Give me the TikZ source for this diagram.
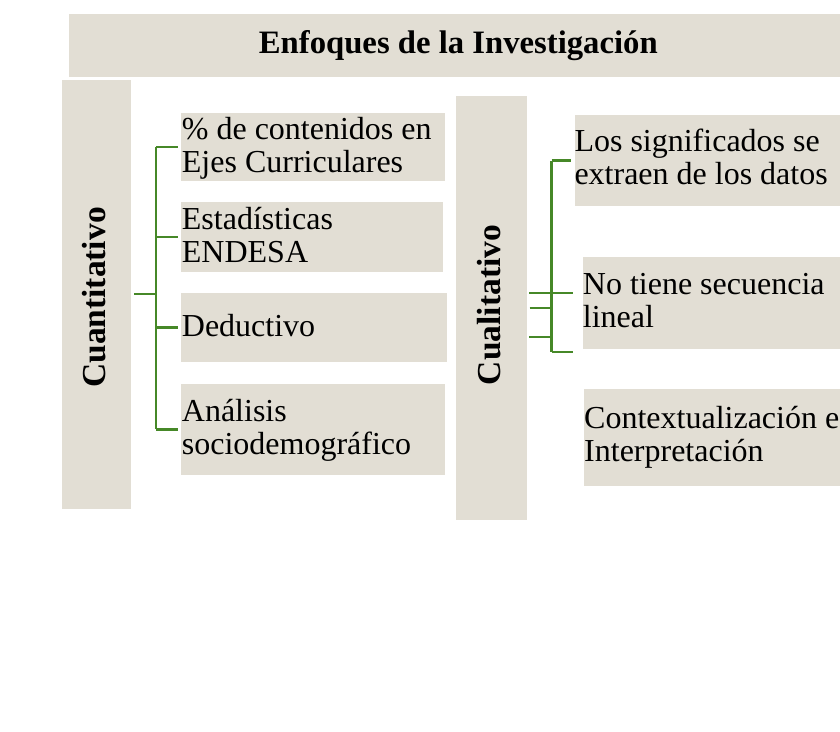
\documentclass[tikz,border=0pt]{standalone}
\usepackage{fontspec}
\usepackage{graphicx}
\setmainfont{Liberation Serif}
\definecolor{beige}{RGB}{226,222,212}
\definecolor{tgreen}{RGB}{70,136,40}
\newcommand\twol[2]{\begin{tabular}[t]{@{}l@{}}#1\\#2\end{tabular}}
\begin{document}
\begin{tikzpicture}[x=1pt,y=-1pt,
  boxst/.style={rectangle,fill=beige,draw=none,inner sep=0pt,anchor=north west},
  txt/.style={anchor=base west,inner sep=0pt,font=\fontsize{32}{33}\selectfont},
  vlabel/.style={inner sep=0pt,font=\bfseries\fontsize{33.5}{38}\selectfont},
  conn/.style={draw=tgreen,line width=2.4pt}]
\useasboundingbox (0,0) rectangle (840,731);
\fill[white] (0,0) rectangle (840,731);
\begin{scope}
\clip (0,0) rectangle (840,731);
% title
\node[boxst,minimum width=795pt,minimum height=62.5pt] (title) at (68.3,14) {};
\node[anchor=base west,inner sep=0pt,font=\bfseries\fontsize{32.7}{38}\selectfont] (titletext) at (258.7,53.3) {Enfoques de la Investigación};
% left column
\node[boxst,minimum width=69pt,minimum height=429pt] (cuant) at (61.7,79.3) {};
\node[vlabel] (cuanttext) at (94,297.5) {\rotatebox{90}{Cuantitativo}};
\node[boxst,minimum width=264pt,minimum height=68.7pt] (b1) at (181,112.3) {};
\node[boxst,minimum width=262pt,minimum height=69.7pt] (b2) at (181,202) {};
\node[boxst,minimum width=266pt,minimum height=69pt] (b3) at (181,292.7) {};
\node[boxst,minimum width=264pt,minimum height=91.7pt] (b4) at (181,383.3) {};
\node[txt] (t1) at (181.7,139.5) {\twol{\% de contenidos en}{Ejes Curriculares}};
\node[txt] (t2) at (181.7,229) {\twol{Estadísticas}{ENDESA}};
\node[txt] (t3) at (181.7,336.7) {Deductivo};
\node[txt] (t4) at (181.7,421.7) {\twol{Análisis}{sociodemográfico}};
% right column
\node[boxst,minimum width=71pt,minimum height=424pt] (cual) at (455.7,96) {};
\node[vlabel] (cualtext) at (489,305) {\rotatebox{90}{Cualitativo}};
\node[boxst,minimum width=290pt,minimum height=90.7pt] (r1) at (574.3,115) {};
\node[boxst,minimum width=280pt,minimum height=91.6pt] (r2) at (582.3,256.7) {};
\node[boxst,minimum width=280pt,minimum height=97pt] (r3) at (583.3,389) {};
\node[txt] (s1) at (574.3,151.7) {\twol{Los significados se}{extraen de los datos}};
\node[txt] (s2) at (582.7,294.3) {\twol{No tiene secuencia}{lineal}};
\node[txt] (s3) at (584,428.3) {\twol{Contextualización e}{Interpretación}};
% left connectors
\coordinate (lsp) at (155.8,293.5);
\draw[conn] ([xshift=3pt]cuant.east) -- (cuant.east -| lsp);
\draw[conn] (lsp |- b1.west) -- (lsp |- b4.west);
\draw[conn] (lsp |- b1.west) -- ([xshift=-3pt]b1.west);
\draw[conn] (lsp |- b2.west) -- ([xshift=-3pt]b2.west);
\draw[conn] (lsp |- b3.west) -- ([xshift=-3pt]b3.west);
\draw[conn] (lsp |- b4.west) -- ([xshift=-3pt]b4.west);
% right connectors
\coordinate (rsp) at (551.5,308.3);
\coordinate (ra) at (529.3,292.7);
\coordinate (rb) at (529.3,336.7);
\coordinate (rc) at (573.3,292.7);
\coordinate (rd) at (573.3,351.7);
\draw[conn] (rsp |- r1.west) -- (rsp |- rd);
\draw[conn] (rsp |- r1.west) -- ([xshift=-3pt]r1.west);
\draw[conn] (rsp |- rc) -- (rc);
\draw[conn] (rsp |- rd) -- (rd);
\draw[conn] ([xshift=2.6pt]cual.east) -- (cual.east -| rsp);
\draw[conn] (ra) -- (rsp |- ra);
\draw[conn] (rb) -- (rsp |- rb);
\end{scope}
\end{tikzpicture}
\end{document}
